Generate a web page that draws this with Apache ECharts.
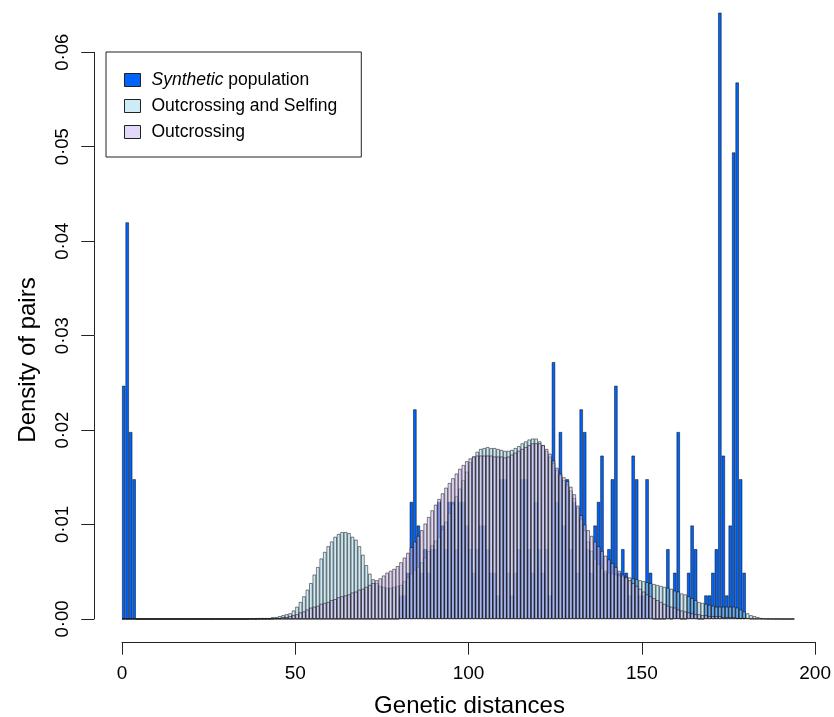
<!DOCTYPE html>
<html><head><meta charset="utf-8">
<script src="https://cdn.jsdelivr.net/npm/echarts@6/dist/echarts.min.js"></script>
<style>html,body{margin:0;padding:0;background:#fff}#c{width:834px;height:717px}</style>
</head><body><div id="c"></div>
<script>
// histogram bins of width 1, starting at 0; axis spans 0..200
const binCount = 200;
const categories = [];
for (let i = 0; i < binCount; i++) categories.push(String(i));

const seriesNames = ['Synthetic population', 'Outcrossing and Selfing', 'Outcrossing'];
const xTickLabels = ['0', '50', '100', '150', '200'];
const yTickLabels = ['0·00', '0·01', '0·02', '0·03', '0·04', '0·05', '0·06'];
const xTitle = 'Genetic distances';
const yTitle = 'Density of pairs';

// bins 0..193
const synthetic = [
0.0247,0.0420,0.0198,0.0148,0,0,0,0,0,0,
0,0,0,0,0,0,0,0,0,0,
0,0,0,0,0,0,0,0,0,0,
0,0,0,0,0,0,0,0,0,0,
0,0,0,0,0,0,0,0,0,0,
0,0,0,0,0,0,0,0,0,0,
0,0,0,0,0,0,0,0,0,0,
0,0,0,0,0,0,0,0,0,0,
0.0025,0.0025,0.0049,0.0124,0.0222,0.0099,0.0049,0.0074,0.0049,0.0074,
0.0074,0.0124,0.0099,0.0074,0.0124,0.0124,0.0074,0.0124,0.0124,0.0099,
0.0074,0.0049,0.0074,0.0099,0.0099,0.0074,0.0049,0.0049,0.0025,0.0148,
0.0148,0.0049,0.0025,0.0049,0.0074,0.0148,0.0148,0.0074,0.0049,0.0124,
0.0074,0.0049,0.0074,0.0025,0.0272,0.0124,0.0198,0.0099,0.0148,0.0074,
0.0124,0.0049,0.0222,0.0198,0.0074,0.0049,0.0099,0.0124,0.0173,0.0049,
0.0074,0.0148,0.0247,0.0049,0.0074,0.0049,0.0025,0.0173,0.0148,0.0025,
0.0025,0.0148,0.0049,0,0,0,0,0.0074,0,0.0049,
0.0198,0,0,0.0049,0.0099,0.0074,0,0,0.0025,0.0025,
0.0049,0.0074,0.0642,0.0173,0.0025,0.0099,0.0494,0.0568,0.0148,0.0049
];

const outSelf = [
0,0,0,0,0,0,0,0,0,0,
0,0,0,0,0,0,0,0,0,0,
0,0,0,0,0,0,0,0,0,0,
0,0,0,0,0,0,0.00003,0.00005,0.00005,0.0001,
0.0001,0.0001,0.0001,0.0002,0.0002,0.0003,0.0004,0.0005,0.0006,0.0009,
0.0013,0.0018,0.0024,0.0031,0.0038,0.0047,0.0055,0.0064,0.0071,0.0077,
0.0082,0.0087,0.0090,0.0092,0.0092,0.0091,0.0087,0.0084,0.0077,0.0068,
0.0057,0.0048,0.0042,0.0038,0.0035,0.0034,0.0033,0.0033,0.0034,0.0035,
0.0036,0.0040,0.0044,0.0048,0.0052,0.0055,0.0060,0.0065,0.0072,0.0078,
0.0083,0.0087,0.0095,0.0103,0.0112,0.0122,0.0130,0.0138,0.0147,0.0156,
0.0166,0.0172,0.0177,0.0180,0.0181,0.0182,0.0181,0.0181,0.0180,0.0179,
0.0178,0.0178,0.0179,0.0181,0.0183,0.0186,0.0188,0.0190,0.0191,0.0191,
0.0188,0.0184,0.0178,0.0172,0.0165,0.0158,0.0152,0.0147,0.0142,0.0136,
0.0128,0.0118,0.0106,0.0094,0.0082,0.0072,0.0064,0.0058,0.0054,0.0051,
0.0049,0.0048,0.0047,0.0046,0.0045,0.0045,0.0044,0.0043,0.0042,0.0041,
0.0040,0.0039,0.0038,0.0037,0.0036,0.0035,0.0034,0.0033,0.0032,0.0030,
0.0029,0.0027,0.0026,0.0024,0.0022,0.0020,0.0018,0.0017,0.0016,0.0015,
0.0014,0.0013,0.0013,0.0013,0.0013,0.0013,0.0013,0.0012,0.0010,0.0008,
0.0006,0.0004,0.0003,0.0002,0.0001,0.00005,0.00003,0.00002,0.00001,0.00001,
0,0,0,0
];

const outcross = [
0,0,0,0,0,0,0,0,0,0,
0,0,0,0,0,0,0,0,0,0,
0,0,0,0,0,0,0,0,0,0,
0,0,0,0,0,0,0,0,0,0,
0,0,0,0.00005,0.0001,0.0001,0.0002,0.0002,0.0003,0.0004,
0.0005,0.0007,0.0008,0.0010,0.0012,0.0013,0.0014,0.0016,0.0017,0.0018,
0.0020,0.0021,0.0023,0.0024,0.0025,0.0026,0.0028,0.0029,0.0031,0.0032,
0.0034,0.0036,0.0038,0.0041,0.0043,0.0046,0.0049,0.0051,0.0053,0.0056,
0.0060,0.0065,0.0070,0.0076,0.0082,0.0088,0.0094,0.0101,0.0108,0.0115,
0.0121,0.0127,0.0133,0.0139,0.0144,0.0149,0.0154,0.0159,0.0163,0.0167,
0.0170,0.0172,0.0173,0.0173,0.0173,0.0173,0.0173,0.0172,0.0172,0.0172,
0.0171,0.0172,0.0174,0.0176,0.0178,0.0180,0.0182,0.0184,0.0186,0.0186,
0.0186,0.0184,0.0180,0.0175,0.0168,0.0160,0.0154,0.0150,0.0146,0.0140,
0.0132,0.0120,0.0110,0.0100,0.0094,0.0088,0.0082,0.0077,0.0072,0.0067,
0.0063,0.0059,0.0055,0.0051,0.0047,0.0044,0.0041,0.0038,0.0035,0.0032,
0.0029,0.0026,0.0024,0.0022,0.0020,0.0018,0.0016,0.0014,0.0013,0.0012,
0.0010,0.0009,0.0008,0.0007,0.0006,0.0005,0.0005,0.0004,0.0004,0.0003,
0.0003,0.0003,0.0003,0.0002,0.0002,0.0002,0.0002,0.0001,0.0001,0.0001,
0.0001,0,0,0,0,0,0,0,0,0,
0,0,0,0
];

const FONT = 'Liberation Sans, Arial, Helvetica, sans-serif';
const FS_LEG = 17.5;
const FS_XTICK = 19;
const FS_YTICK = 18.5;
const FS_TITLE = 24;
const colors = ['#0064FA', 'rgba(172,224,242,0.6)', 'rgba(208,190,244,0.6)'];
const edge = 'rgba(0,0,0,0.7)';
const edgeWidth = 0.7;

const chart = echarts.init(document.getElementById('c'), null, {renderer: 'canvas'});

function barSeries(name, data, color) {
  return {
    name: name, type: 'bar', xAxisIndex: 0, yAxisIndex: 0,
    data: data, barGap: '-100%', barCategoryGap: '0%', clip: false,
    itemStyle: {color: color, borderColor: edge, borderWidth: edgeWidth},
    emphasis: {disabled: true}, silent: true
  };
}

chart.setOption({
  animation: false,
  backgroundColor: '#fff',
  textStyle: {fontFamily: FONT},
  grid: {left: 122, top: 52.3, width: 695, height: 566.7, containLabel: false},
  legend: {
    orient: 'vertical', left: 106, top: 52, icon: 'rect',
    padding: [19, 24, 16, 18], itemGap: 8, itemWidth: 16, itemHeight: 13,
    borderColor: '#222', borderWidth: 1, backgroundColor: '#fff',
    data: seriesNames,
    itemStyle: {borderColor: '#222', borderWidth: 1},
    textStyle: {fontFamily: FONT, fontSize: FS_LEG, color: '#000', padding: [0, 0, 0, 6],
      rich: {i: {fontFamily: FONT, fontSize: FS_LEG, fontStyle: 'italic', color: '#000'}}},
    formatter: function (n) { return n === seriesNames[0] ? '{i|Synthetic} population' : n; }
  },
  xAxis: [
    {type: 'category', data: categories, show: false, boundaryGap: true, gridIndex: 0},
    {type: 'value', min: 0, max: 200, interval: 50, gridIndex: 0, position: 'bottom', offset: 23,
     axisLine: {show: true, onZero: false, lineStyle: {color: '#222', width: 1}},
     axisTick: {show: true, length: 12.7, lineStyle: {color: '#222'}},
     axisLabel: {fontFamily: FONT, fontSize: FS_XTICK, color: '#000', margin: 22,
       formatter: function (v) { return xTickLabels[Math.round(v / 50)]; }},
     splitLine: {show: false}}
  ],
  yAxis: [
    {type: 'value', min: 0, max: 0.06, interval: 0.01, gridIndex: 0, position: 'left', offset: 28,
     axisLine: {show: true, onZero: false, lineStyle: {color: '#222', width: 1}},
     axisTick: {show: true, length: 12.7, lineStyle: {color: '#222'}},
     axisLabel: {fontFamily: FONT, fontSize: FS_YTICK, color: '#000', rotate: 90, margin: 22,
       formatter: function (v) { return yTickLabels[Math.round(v / 0.01)]; }},
     splitLine: {show: false}}
  ],
  graphic: [
    {type: 'text', x: 469.5, y: 706, silent: true,
     style: {text: xTitle, font: FS_TITLE + 'px ' + FONT, fill: '#000', align: 'center', verticalAlign: 'middle'}},
    {type: 'text', x: 28, y: 360, rotation: Math.PI / 2, silent: true,
     style: {text: yTitle, font: FS_TITLE + 'px ' + FONT, fill: '#000', align: 'center', verticalAlign: 'middle'}}
  ],
  series: [
    barSeries(seriesNames[0], synthetic, colors[0]),
    barSeries(seriesNames[1], outSelf, colors[1]),
    barSeries(seriesNames[2], outcross, colors[2])
  ]
});
</script></body></html>
